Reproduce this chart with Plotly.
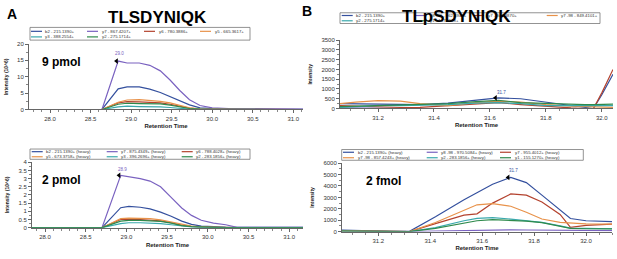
import plotly.graph_objects as go

W, H = 617, 259
FONT = "Liberation Sans, Arial, sans-serif"

# ---------------- data ----------------
# Panel A, 9 pmol (light)
rt_a9 = [27.74, 28.64, 28.84, 28.95, 29.10, 29.23, 29.36, 29.48, 29.60, 29.72, 29.85, 30.00, 30.20, 30.50, 30.80, 31.12]
a9_b2 = [0, 0, 6.3, 6.9, 6.9, 6.2, 5.2, 4.0, 2.6, 1.4, 0.5, 0.25, 0.15, 0.1, 0.05, 0.05]
a9_y7 = [0, 0, 14.8, 14.2, 14.2, 13.5, 11.8, 9.0, 5.8, 3.0, 1.2, 0.5, 0.3, 0.2, 0.15, 0.1]
a9_y6 = [0, 0, 2.0, 2.4, 2.3, 2.2, 2.0, 1.6, 0.9, 0.4, 0.15, 0.05, 0.02, 0, 0, 0]
a9_y5 = [0, 0, 2.2, 2.9, 3.0, 2.8, 2.5, 2.0, 1.2, 0.5, 0.2, 0.1, 0.05, 0.02, 0, 0]
a9_y3 = [0, 0, 0.8, 1.0, 0.9, 0.9, 0.8, 0.6, 0.3, 0.1, 0.05, 0, 0, 0, 0, 0]
a9_y2 = [0, 0, 1.6, 1.9, 1.8, 1.7, 1.7, 1.3, 0.7, 0.3, 0.1, 0.05, 0, 0, 0, 0]
names_a9 = ["b2 - 215.1390+", "y7 - 867.4207+", "y6 - 780.3886+", "y5 - 665.3617+",
            "y3 - 388.2554+", "y2 - 275.1714+"]

# Panel A, 2 pmol (heavy)
rt_a2 = [27.84, 28.70, 28.93, 29.03, 29.17, 29.29, 29.42, 29.55, 29.68, 29.80, 29.92, 30.07, 30.22, 30.36, 30.70, 31.17]
a2_b2 = [0, 0, 1.22, 1.3, 1.25, 1.15, 0.95, 0.7, 0.4, 0.2, 0.1, 0.05, 0.03, 0.02, 0.02, 0.02]
a2_y7 = [0, 0, 3.2, 3.13, 3.0, 2.85, 2.5, 1.85, 1.2, 0.75, 0.45, 0.28, 0.18, 0.02, 0.02, 0.02]
a2_y6 = [0, 0, 0.5, 0.52, 0.5, 0.48, 0.42, 0.3, 0.15, 0.07, 0.03, 0.01, 0, 0, 0, 0]
a2_y5 = [0, 0, 0.55, 0.58, 0.57, 0.55, 0.48, 0.35, 0.2, 0.1, 0.05, 0.03, 0.01, 0, 0, 0]
a2_y3 = [0, 0, 0.25, 0.3, 0.3, 0.28, 0.25, 0.18, 0.09, 0.04, 0.02, 0, 0, 0, 0, 0]
a2_y2 = [0, 0, 0.4, 0.45, 0.45, 0.43, 0.38, 0.28, 0.13, 0.06, 0.03, 0.01, 0, 0, 0, 0]
names_a2 = ["b2 - 215.1390+ (heavy)", "y7 - 875.4349+ (heavy)", "y6 - 788.4028+ (heavy)",
            "y5 - 673.3758+ (heavy)", "y3 - 396.2696+ (heavy)", "y2 - 283.1856+ (heavy)"]

# Panel B, light (phospho peptide)
rt_b1 = [31.064, 31.12, 31.20, 31.28, 31.35, 31.45, 31.55, 31.63, 31.71, 31.80, 31.89, 31.94, 31.97, 32.00, 32.04]
b1_b2 = [250, 240, 230, 210, 200, 280, 440, 545, 500, 330, 150, 30, 0, 700, 1750]
b1_y8 = [30, 20, 10, 0, 0, 0, 10, 20, 10, 0, 0, 0, 0, 0, 0]
b1_y7 = [150, 120, 100, 50, 60, 150, 260, 300, 200, 100, 30, 0, 0, 800, 2000]
b1_y7n = [250, 330, 400, 380, 250, 150, 300, 380, 330, 200, 120, 90, 80, 70, 60]
b1_y2 = [50, 100, 150, 150, 160, 200, 280, 300, 250, 150, 150, 150, 150, 150, 150]
b1_y1 = [100, 120, 150, 200, 220, 250, 350, 420, 300, 250, 200, 200, 200, 200, 220]
names_b1 = ["b2 - 215.1390+", "y8 -98 - 962.4942+", "y7 - 947.3870+", "y7 -98 - 849.4101+",
            "y2 - 275.1714+", "y1 - 147.1128+"]

# Panel B, 2 fmol (heavy)
rt_b2 = [31.06, 31.15, 31.25, 31.32, 31.42, 31.53, 31.58, 31.64, 31.71, 31.77, 31.83, 31.90, 31.94, 32.00, 32.10]
b2_b2 = [120, 60, 30, 20, 1300, 2800, 3400, 4150, 4750, 4300, 3200, 1900, 1150, 950, 880]
b2_y8 = [50, 20, 0, 0, 50, 100, 120, 150, 150, 140, 120, 100, 80, 80, 80]
b2_y7 = [80, 40, 20, 0, 700, 1450, 1560, 2500, 3300, 3200, 2600, 1500, 370, 550, 650]
b2_y7n = [60, 30, 10, 0, 800, 1900, 2350, 2450, 2220, 1700, 1100, 800, 730, 680, 650]
b2_y2 = [40, 20, 0, 0, 350, 950, 1150, 1220, 1100, 950, 800, 500, 300, 280, 250]
b2_y1 = [40, 20, 0, 0, 280, 750, 950, 1050, 980, 920, 780, 450, 280, 250, 230]
names_b2 = ["b2 - 215.1390+ (heavy)", "y8 -98 - 970.5084+ (heavy)", "y7 - 955.4012+ (heavy)",
            "y7 -98 - 857.4243+ (heavy)", "y2 - 283.1856+ (heavy)", "y1 - 155.1270+ (heavy)"]

# ---------------- styling ----------------
BLUE, PURPLE, RED, ORANGE, CYAN, GREEN = "#34509e", "#7a62c0", "#b4432f", "#e8924a", "#3aa9ad", "#2f8a4c"


def px(x):
    return x / W


def py(y):
    return 1 - y / H


panels = [
    dict(ax="", rt=rt_a9, series=[a9_b2, a9_y7, a9_y6, a9_y5, a9_y3, a9_y2], names=names_a9,
         colors=[BLUE, PURPLE, RED, ORANGE, CYAN, GREEN],
         dom_x=(29, 303), dom_y=(42, 109), xr=(27.74, 31.12), yr=(0, 20), ydt=5, xdt=0.5, xminor=0.1,
         ytitle="Intensity (10^6)",
         leg=dict(box=(30, 25, 250, 38), rows=(29, 34.7), cols=(31, 87, 144, 200), ncol=4)),
    dict(ax="2", rt=rt_a2, series=[a2_b2, a2_y7, a2_y6, a2_y5, a2_y3, a2_y2], names=names_a2,
         colors=[BLUE, PURPLE, RED, ORANGE, CYAN, GREEN],
         dom_x=(32, 303), dom_y=(163, 230), xr=(27.84, 31.17), yr=(0, 4), ydt=0.5, xdt=0.5, xminor=0.1,
         ytitle="Intensity (10^6)",
         leg=dict(box=(30, 149.5, 250, 160), rows=(152.2, 157.4), cols=(31.7, 106.7, 181.7), ncol=3)),
    dict(ax="3", rt=rt_b1, series=[b1_b2, b1_y8, b1_y7, b1_y7n, b1_y2, b1_y1], names=names_b1,
         colors=[BLUE, PURPLE, RED, ORANGE, CYAN, GREEN],
         dom_x=(340, 613), dom_y=(38, 108), xr=(31.064, 32.04), yr=(0, 3500), ydt=500, xdt=0.2, xminor=0.05,
         ytitle="Intensity",
         leg=dict(box=(340, 10, 600, 21), rows=(12.8, 18.2), cols=(341.7, 415, 473, 546.7), ncol=4)),
    dict(ax="4", rt=rt_b2, series=[b2_b2, b2_y8, b2_y7, b2_y7n, b2_y2, b2_y1], names=names_b2,
         colors=[BLUE, PURPLE, RED, ORANGE, CYAN, GREEN],
         dom_x=(342, 612), dom_y=(164, 234), xr=(31.06, 32.10), yr=(0, 6000), ydt=1000, xdt=0.2, xminor=0.05,
         ytitle="Intensity",
         leg=dict(box=(341.7, 150, 583.3, 161), rows=(152.8, 158.4), cols=(343, 426.7, 500), ncol=3)),
]

fig = go.Figure()
shapes = []
annotations = []
layout = {}

for p in panels:
    xa, ya = "x" + p["ax"], "y" + p["ax"]
    for vals, name, col in zip(p["series"], p["names"], p["colors"]):
        fig.add_trace(go.Scatter(x=p["rt"], y=vals, name=name, mode="lines",
                                 line=dict(color=col, width=1.2), xaxis=xa, yaxis=ya,
                                 showlegend=False, hoverinfo="skip"))
    axis_common = dict(showline=True, linecolor="#666", linewidth=1, showgrid=False, zeroline=False,
                       ticks="outside", ticklen=3, tickcolor="#666", tickwidth=1,
                       tickfont=dict(family=FONT, size=6, color="#333"))
    layout["xaxis" + p["ax"]] = dict(
        axis_common, domain=[px(p["dom_x"][0]), px(p["dom_x"][1])], range=list(p["xr"]),
        anchor=ya, dtick=p["xdt"], tick0=0, tickformat=".1f",
        minor=dict(ticks="outside", ticklen=2, dtick=p["xminor"], tick0=0, tickcolor="#888"),
        title=dict(text="<b>Retention Time</b>", font=dict(family=FONT, size=6, color="#222"), standoff=3))
    layout["yaxis" + p["ax"]] = dict(
        axis_common, domain=[py(p["dom_y"][1]), py(p["dom_y"][0])], range=list(p["yr"]),
        anchor=xa, dtick=p["ydt"], tick0=0, exponentformat="none", separatethousands=False,
        minor=dict(ticks="outside", ticklen=2, dtick=p["ydt"] / 2, tick0=0, tickcolor="#888"),
        title=dict(text="<b>%s</b>" % p["ytitle"], font=dict(family=FONT, size=5, color="#222"), standoff=8))

    # manual legend box
    lg = p["leg"]
    x0, y0, x1, y1 = lg["box"]
    shapes.append(dict(type="rect", xref="paper", yref="paper", x0=px(x0), x1=px(x1), y0=py(y1), y1=py(y0),
                       line=dict(color="#777", width=0.8), fillcolor="white", layer="above"))
    for i, (name, col) in enumerate(zip(p["names"], p["colors"])):
        r, c = divmod(i, lg["ncol"])
        yy = lg["rows"][r]
        lx = lg["cols"][c]
        shapes.append(dict(type="line", xref="paper", yref="paper", x0=px(lx), x1=px(lx + 11),
                           y0=py(yy), y1=py(yy), line=dict(color=col, width=1.2), layer="above"))
        annotations.append(dict(text=name, xref="paper", yref="paper", x=px(lx + 12.5), y=py(yy),
                                xanchor="left", yanchor="middle", showarrow=False,
                                font=dict(family=FONT, size=4.3, color="#333")))

fig.update_layout(**layout)

# peak markers
peaks = [
    ("", 28.82, 14.8, "29.0", PURPLE, 17.0),
    ("2", 28.91, 3.2, "28.9", PURPLE, 3.55),
    ("3", 31.62, 545, "31.7", BLUE, 800),
    ("4", 31.70, 4750, "31.7", BLUE, 5350),
]
for ax, xx, yy, lab, col, ylab in peaks:
    fig.add_trace(go.Scatter(x=[xx], y=[yy], mode="markers", xaxis="x" + ax, yaxis="y" + ax,
                             marker=dict(symbol="triangle-left", size=5, color="black"),
                             showlegend=False, hoverinfo="skip"))
    annotations.append(dict(text=lab, xref="x" + ax, yref="y" + ax, x=xx + (0.04 if ax in ("", "2") else 0.02),
                            y=ylab, showarrow=False, font=dict(family=FONT, size=4.5, color=col)))

# labels
texts = [
    ("A", 12, 11, 14),
    ("B", 307, 8, 14),
    ("TLSDYNIQK", 157, 15, 17),
    ("TLpSDYNIQK", 457, 14, 17),
    ("9 pmol", 61, 60, 12),
    ("2 pmol", 61, 181, 12),
    ("2 fmol", 383, 182, 12),
]
for t, xx, yy, fs in texts:
    annotations.append(dict(text="<b>%s</b>" % t, xref="paper", yref="paper", x=px(xx), y=py(yy),
                            xanchor="center", yanchor="middle", showarrow=False,
                            font=dict(family=FONT, size=fs, color="black")))

fig.update_layout(width=W, height=H, margin=dict(l=0, r=0, t=0, b=0),
                  paper_bgcolor="white", plot_bgcolor="white",
                  shapes=shapes, annotations=annotations, showlegend=False)

fig.write_html("out.html", config={"displayModeBar": False},
               post_script="document.body.style.margin='0px';document.body.style.overflow='hidden';")
